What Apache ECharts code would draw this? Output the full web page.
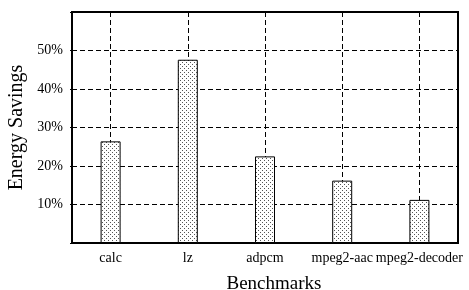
<!DOCTYPE html>
<html>
<head>
<meta charset="utf-8">
<script src="https://cdn.jsdelivr.net/npm/echarts@6/dist/echarts.min.js"></script>
<style>
  html, body { margin: 0; padding: 0; background: #fff; }
  #chart { width: 469px; height: 290px; }
</style>
</head>
<body>
<div id="chart"></div>
<script>
// benchmarks and energy savings (%)
var categories = ['calc', 'lz', 'adpcm', 'mpeg2-aac', 'mpeg2-decoder'];
var savings = [26.4, 47.6, 22.5, 16.2, 11.2];
// half-step positions, used only for the vertical dashed lines at bar centres
var halfSteps = ['', '', '', '', '', '', '', '', '', '', ''];

// dotted fill like the printed figure
var dots = document.createElement('canvas');
dots.width = 4;
dots.height = 4;
var ctx = dots.getContext('2d');
ctx.fillStyle = '#fff';
ctx.fillRect(0, 0, 4, 4);
ctx.fillStyle = '#555';
ctx.fillRect(0, 0, 1, 1);
ctx.fillRect(2, 2, 1, 1);

var font = 'Liberation Serif';
var dashed = { color: '#000', width: 1, type: [5, 3] };

var myChart = echarts.init(document.getElementById('chart'));
myChart.setOption({
  animation: false,
  grid: {
    left: 72, right: 11, top: 12, bottom: 47,
    outerBoundsMode: 'none',
    containLabel: false,
    show: true, borderColor: '#000', borderWidth: 2
  },
  xAxis: [{
    type: 'category',
    data: categories,
    name: 'Benchmarks',
    nameLocation: 'middle',
    nameGap: 32,
    nameTextStyle: { fontFamily: font, fontSize: 19, color: '#000', padding: [0, 0, 0, 18] },
    axisLine: { lineStyle: { color: '#000', width: 2 } },
    axisTick: { alignWithLabel: true, inside: true, length: 4, lineStyle: { color: '#000', width: 2 } },
    axisLabel: { fontFamily: font, fontSize: 14, color: '#000', margin: 8, interval: 0 },
    splitLine: { show: false }
  }, {
    type: 'category',
    data: halfSteps,
    boundaryGap: false,
    position: 'bottom',
    axisLine: { show: false },
    axisTick: { show: false },
    axisLabel: { show: false },
    splitLine: {
      show: true,
      interval: function (index) { return index % 2 === 1; },
      lineStyle: dashed
    }
  }],
  yAxis: {
    type: 'value',
    min: 0,
    max: 60,
    interval: 10,
    name: 'Energy Savings',
    nameLocation: 'middle',
    nameGap: 44,
    nameTextStyle: { fontFamily: font, fontSize: 20, color: '#000' },
    axisLine: { show: true, lineStyle: { color: '#000', width: 2 } },
    axisTick: { show: true, length: 2, lineStyle: { color: '#000' } },
    axisLabel: {
      fontFamily: font, fontSize: 14, color: '#000', margin: 9,
      formatter: function (v) { return (v > 0 && v < 60) ? v + '%' : ''; }
    },
    splitLine: { show: true, lineStyle: dashed }
  },
  series: [{
    type: 'bar',
    xAxisIndex: 0,
    barWidth: 20,
    data: savings,
    itemStyle: {
      color: { image: dots, repeat: 'repeat' },
      borderColor: '#000',
      borderWidth: 1
    }
  }]
});
</script>
</body>
</html>
